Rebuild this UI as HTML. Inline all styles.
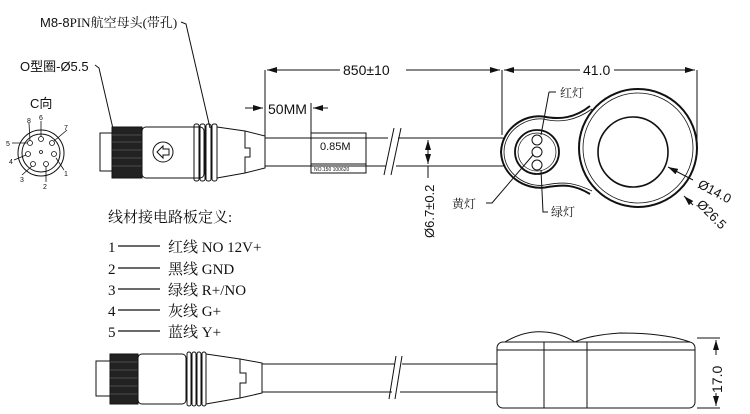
<!DOCTYPE html>
<html><head><meta charset="utf-8"><style>
html,body{margin:0;padding:0;background:#fff;}
svg{display:block;}
text{font-family:"Liberation Sans","Noto Sans CJK SC",sans-serif;fill:#111;}
.s{font-family:"Liberation Serif","Noto Serif CJK SC",serif;}
</style></head><body>
<svg width="750" height="414" viewBox="0 0 750 414" xmlns="http://www.w3.org/2000/svg" fill="none" stroke="#111" stroke-width="1">
<defs><marker id="a" markerWidth="10" markerHeight="6" refX="10" refY="3" orient="auto"><path d="M0,0 L10,3 L0,6 z" fill="#111" stroke="none"/></marker></defs>
<text x="40" y="27" font-size="13" stroke="none">M8-8<tspan class="s">PIN航空母头(带孔)</tspan></text>
<path d="M181,22 L186,24 L210,128"/>
<text x="20" y="71" font-size="13" stroke="none">O型圈-Ø5.5</text>
<path d="M95,65 L99,68 L114,133"/>
<text x="30" y="108" font-size="13" stroke="none">C向</text>
<circle cx="41" cy="153" r="23"/><circle cx="41" cy="153" r="19"/>
<g stroke-width="0.8">
<circle cx="41" cy="139" r="2.5"/><circle cx="30" cy="143" r="2.5"/><circle cx="52" cy="143" r="2.5"/><circle cx="28" cy="154" r="2.5"/><circle cx="54" cy="154" r="2.5"/><circle cx="33" cy="164" r="2.5"/><circle cx="46" cy="164" r="2.5"/><circle cx="41" cy="152" r="1.5"/>
<path d="M41,121 V137 M29,123 L30,141 M67,130 L54,141 M12,143 L27,143 M14,160 L26,155 M22,175 L32,166 M46,182 L46,166 M64,170 L56,158"/>
</g>
<g font-size="7" stroke="none"><text x="39" y="120">6</text><text x="27" y="123">8</text><text x="64" y="130">7</text><text x="6" y="146">5</text><text x="9" y="164">4</text><text x="20" y="182">3</text><text x="43" y="189">2</text><text x="64" y="176">1</text></g>
<rect x="100" y="133" width="12" height="38"/>
<rect x="112" y="127" width="30" height="51" fill="#222"/>
<g stroke="#777" stroke-width="0.6"><path d="M112,135H142M112,142H142M112,150H142M112,158H142M112,166H142"/></g>
<rect x="142" y="127" width="62" height="51" rx="4"/>
<circle cx="163" cy="152" r="10"/><path d="M157,152 L163,146 V149 H169 V155 H163 V158 z"/>
<rect x="194" y="124" width="5" height="57" rx="2"/><rect x="200" y="124" width="5" height="57" rx="2"/><rect x="206" y="124" width="5" height="57" rx="2"/><rect x="212" y="124" width="5" height="57" rx="2"/>
<path d="M217,127 L245,131 L265,136 V168 L245,173 L217,178"/>
<path d="M245,131 V148 H250 V157 H245 V173"/>
<path d="M265,138 H388 M265,166 H386 M398,138 H505 M396,166 H505"/>
<path d="M384,175 L394,128 M391,175 L401,128"/>
<rect x="311" y="133" width="55" height="40"/>
<path d="M311,164 H366"/>
<text x="320" y="150" font-size="11" stroke="none">0.85M</text>
<text x="314" y="171" font-size="5" stroke="none">NO.150 100620</text>
<path d="M265,70 V138 M502,70 V135 M697,70 V150"/>
<path d="M340,70 H267" marker-end="url(#a)"/><text x="343" y="75" font-size="14" stroke="none">850±10</text><path d="M406,70 H500" marker-end="url(#a)"/>
<path d="M580,70 H504" marker-end="url(#a)"/><text x="583" y="75" font-size="14" stroke="none">41.0</text><path d="M614,70 H695" marker-end="url(#a)"/>
<path d="M245,108 H263" marker-end="url(#a)"/><text x="268" y="114" font-size="14" stroke="none">50MM</text><path d="M311,103 V133"/><path d="M328,108 H313" marker-end="url(#a)"/>
<!-- head -->
<path d="M543,116.5 C525,114 502,128 501,152 C502,176 525,190 545,187.5 C565,184 575,185 590,194 M543,116.5 C560,120 575,118 590,106" stroke-width="2"/>
<path d="M543,119 C527,117 504,130 504,152 C504,174 527,188 545,185 C565,181 575,183 592,191 M543,119 C560,123 575,121 592,109" stroke-width="0.8"/>
<circle cx="638" cy="148" r="59" stroke-width="2"/><circle cx="638" cy="148" r="55" stroke-width="0.8"/>
<circle cx="633" cy="152" r="35" stroke-width="1.6"/>
<circle cx="537" cy="152" r="22" stroke-width="1.8"/><circle cx="537" cy="152" r="19" stroke-width="0.7"/>
<circle cx="537" cy="140" r="5"/><circle cx="537" cy="152" r="5"/><circle cx="537" cy="165" r="5"/>
<path d="M549,92 H556 M549,92 L541,135"/><text x="560" y="97" font-size="12" stroke="none" class="s">红灯</text>
<path d="M486,203 H492 L533,155"/><text x="452" y="208" font-size="12" stroke="none" class="s">黄灯</text>
<path d="M548,212 H543 L541,170"/><text x="551" y="216" font-size="12" stroke="none" class="s">绿灯</text>
<path d="M693,180 L668,167" marker-end="url(#a)"/><path d="M693,205 L684,196" marker-end="url(#a)"/>
<text x="0" y="0" font-size="13" stroke="none" transform="translate(697,187) rotate(28)">Ø14.0</text>
<text x="0" y="0" font-size="13" stroke="none" transform="translate(696,205) rotate(45)">Ø26.5</text>
<path d="M428,155 V140" marker-end="url(#a)"/><path d="M428,152 V164" marker-end="url(#a)"/><path d="M428,166 V178"/>
<text x="0" y="0" font-size="13" stroke="none" transform="translate(434,238) rotate(-90)">Ø6.7±0.2</text>
<g font-size="15" stroke="none">
<text x="108" y="222" class="s">线材接电路板定义:</text>
<text x="108" y="252" class="s">1</text><text x="168" y="252" class="s">红线 NO 12V+</text>
<text x="108" y="274" class="s">2</text><text x="168" y="274" class="s">黑线 GND</text>
<text x="108" y="295" class="s">3</text><text x="168" y="295" class="s">绿线 R+/NO</text>
<text x="108" y="316" class="s">4</text><text x="168" y="316" class="s">灰线 G+</text>
<text x="108" y="337" class="s">5</text><text x="168" y="337" class="s">蓝线 Y+</text>
</g>
<path d="M118,246 H160 M118,268 H160 M118,289 H160 M118,310 H160 M118,331 H160" stroke-width="1.2"/>
<rect x="96" y="361" width="15" height="35"/>
<rect x="110" y="354" width="28" height="50" fill="#222"/>
<g stroke="#777" stroke-width="0.6"><path d="M110,362H138M110,370H138M110,378H138M110,386H138M110,394H138"/></g>
<rect x="138" y="354" width="48" height="50" rx="4"/>
<rect x="187" y="352" width="4" height="54" rx="2"/><rect x="192" y="352" width="4" height="54" rx="2"/><rect x="197" y="352" width="4" height="54" rx="2"/><rect x="202" y="352" width="4" height="54" rx="2"/>
<path d="M206,354 L240,359 L262,363 V393 L240,398 L206,404"/>
<path d="M240,359 V373 H246 V383 H240 V398"/>
<path d="M262,364 H395 M262,392 H392 M402,364 H497 M400,392 H497"/>
<path d="M389,399 L396,356 M395,399 L402,356"/>
<rect x="497" y="342" width="198" height="66" rx="6"/>
<path d="M497,350 H695 M544,342 V408 M587,342 V408"/>
<path d="M505,342 Q525,330 545,332 Q560,333 575,342 M575,342 Q590,335 620,333 Q665,333 690,342"/>
<path d="M697,338 H720 M697,408 H720"/>
<path d="M716,355 V340" marker-end="url(#a)"/><path d="M716,393 V406" marker-end="url(#a)"/>
<text x="0" y="0" font-size="14" stroke="none" transform="translate(722,393) rotate(-90)">17.0</text>
</svg>
</body></html>
